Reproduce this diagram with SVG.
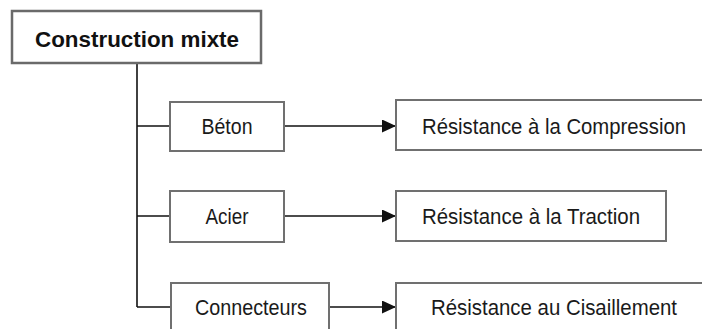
<svg xmlns="http://www.w3.org/2000/svg" width="702" height="329" viewBox="0 0 702 329">
  <defs>
    <style>
      .box { fill: #ffffff; stroke: #707070; stroke-width: 2; }
      .root { fill: #ffffff; stroke: #6a6a6a; stroke-width: 2.5; }
      .lbl { font-family: "Liberation Sans", Arial, sans-serif; font-size: 22px; fill: #1a1a1a; }
      .title { font-family: "Liberation Sans", Arial, sans-serif; font-size: 22px; font-weight: bold; fill: #111111; }
      .wire { fill: none; stroke: #111111; stroke-width: 1.6; }
    </style>
    <marker id="arrow" markerWidth="14" markerHeight="13" refX="14" refY="6.5" orient="auto" markerUnits="userSpaceOnUse">
      <path d="M0,0 L14,6.5 L0,13 Z" fill="#111111"/>
    </marker>
  </defs>
  <rect x="0" y="0" width="702" height="329" fill="#ffffff"/>

  <g id="connectors">
    <path class="wire" d="M137,63 V307"/>
    <path class="wire" d="M137,126 H170"/>
    <path class="wire" d="M137,216 H170"/>
    <path class="wire" d="M137,307 H171"/>
    <path class="wire" d="M284,126 H396" marker-end="url(#arrow)"/>
    <path class="wire" d="M284,216 H396" marker-end="url(#arrow)"/>
    <path class="wire" d="M329,307 H396" marker-end="url(#arrow)"/>
  </g>

  <g id="construction-mixte">
    <rect class="root" x="12" y="11" width="249" height="52"/>
    <text class="title" x="137" y="47" text-anchor="middle" textLength="204" lengthAdjust="spacingAndGlyphs">Construction mixte</text>
  </g>

  <g id="beton">
    <rect class="box" x="170" y="102" width="114" height="49"/>
    <text class="lbl" x="227" y="134" text-anchor="middle" textLength="51" lengthAdjust="spacingAndGlyphs">Béton</text>
  </g>

  <g id="acier">
    <rect class="box" x="170" y="191" width="114" height="51"/>
    <text class="lbl" x="227" y="224" text-anchor="middle" textLength="43" lengthAdjust="spacingAndGlyphs">Acier</text>
  </g>

  <g id="connecteurs">
    <rect class="box" x="171" y="283" width="158" height="60"/>
    <text class="lbl" x="251" y="315" text-anchor="middle" textLength="112" lengthAdjust="spacingAndGlyphs">Connecteurs</text>
  </g>

  <g id="resistance-compression">
    <rect class="box" x="396" y="100" width="312" height="50"/>
    <text class="lbl" x="422" y="134" textLength="264" lengthAdjust="spacingAndGlyphs">Résistance à la Compression</text>
  </g>

  <g id="resistance-traction">
    <rect class="box" x="396" y="191" width="270" height="50"/>
    <text class="lbl" x="422" y="224" textLength="218" lengthAdjust="spacingAndGlyphs">Résistance à la Traction</text>
  </g>

  <g id="resistance-cisaillement">
    <rect class="box" x="396" y="283" width="312" height="60"/>
    <text class="lbl" x="431" y="315" textLength="246" lengthAdjust="spacingAndGlyphs">Résistance au Cisaillement</text>
  </g>
</svg>
